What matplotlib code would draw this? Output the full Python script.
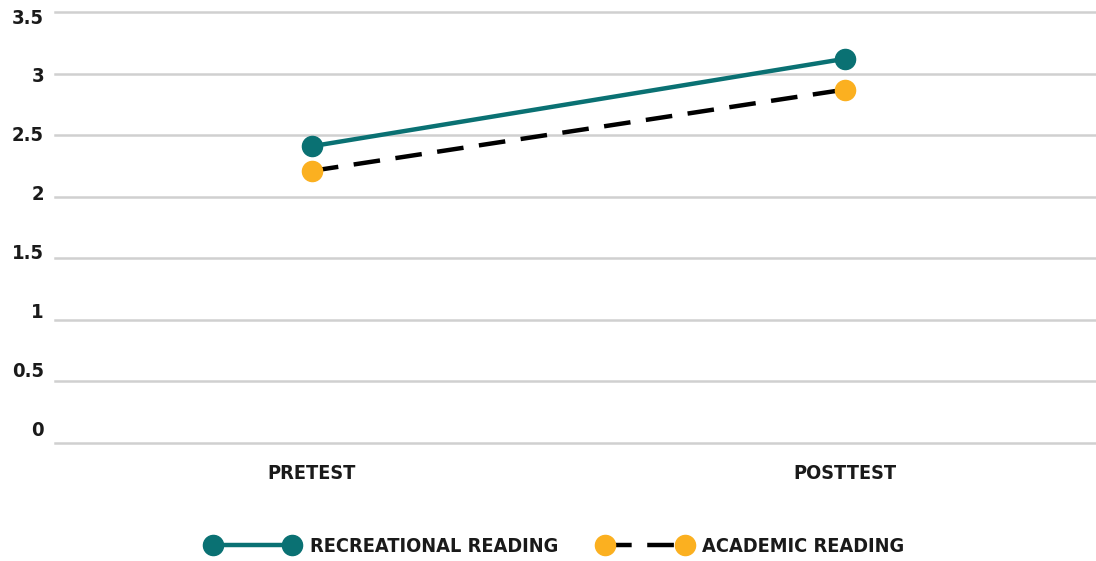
import matplotlib
matplotlib.use("Agg")
import matplotlib.pyplot as plt

categories = ["PRETEST", "POSTTEST"]
recreational = [2.41, 3.12]
academic = [2.21, 2.87]
yticks = [0, 0.5, 1, 1.5, 2, 2.5, 3, 3.5]
ytick_labels = ["0", "0.5", "1", "1.5", "2", "2.5", "3", "3.5"]

TEAL = "#0a7173"
ORANGE = "#fbb020"
plt.rcParams['font.family'] = ["DejaVu Sans"]
plt.rcParams['font.stretch'] = "condensed"

fig = plt.figure(figsize=(10.96, 5.61), dpi=100)
ax = fig.add_axes([55/1096, (561-443)/561, 1 - 55/1096, (443-12)/561])

x = [0, 1]
ax.plot(x, academic, color="black", lw=3.2, ls=(0, (6, 3.5)), marker="o",
        markersize=14.5, markerfacecolor=ORANGE, markeredgecolor=ORANGE,
        label="ACADEMIC READING", zorder=3, clip_on=False)
ax.plot(x, recreational, color=TEAL, lw=3.2, marker="o", markersize=14.5,
        markerfacecolor=TEAL, markeredgecolor=TEAL,
        label="RECREATIONAL READING", zorder=4, clip_on=False)

ax.set_xlim(-0.482, 1.471)
ax.set_ylim(0, 3.5)
ax.set_yticks(yticks)
ax.set_yticklabels([])
ax.set_xticks(x)
ax.set_xticklabels(categories)
for s in ax.spines.values():
    s.set_visible(False)
ax.grid(axis="y", color="#d0d0d0", lw=1.8)
for gl in ax.get_ygridlines():
    gl.set_clip_on(False)
ax.set_axisbelow(True)
ax.tick_params(axis="both", length=0)
ax.tick_params(axis="x", pad=15)

# y labels: spread slightly differently than gridlines, as in the reference
for v, t in zip(yticks, ytick_labels):
    frac = 0.030 + v / 3.5 * 0.956
    ax.text(-11/1041, frac, t, transform=ax.transAxes, ha="right", va="center",
            fontsize=14.5, fontweight="bold", color="#1a1a1a")

for lbl in ax.get_xticklabels():
    lbl.set_fontsize(14.2)
    lbl.set_fontweight("bold")
    lbl.set_color("#1a1a1a")

h, l = ax.get_legend_handles_labels()
leg = fig.legend([h[1], h[0]], [l[1], l[0]], loc="center", bbox_to_anchor=(0.507, (561-546)/561),
                 ncol=2, frameon=False, numpoints=2, handlelength=4.6,
                 columnspacing=2.06, handletextpad=0.6,
                 prop={"weight": "bold", "size": 14.3})
for t in leg.get_texts():
    t.set_color("#1a1a1a")

fig.savefig("out.png", dpi=100)
